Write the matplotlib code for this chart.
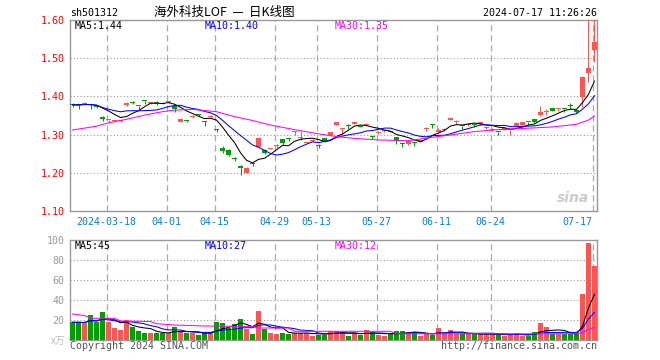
import numpy as np
import pandas as pd
import matplotlib
matplotlib.use('Agg')
import matplotlib.pyplot as plt

# 日K数据: 2024-03-08 ~ 2024-07-17, 88个交易日
opens = [1.380, 1.378, 1.381, 1.378, 1.376, 1.347, 1.338, 1.335, 1.336, 1.377,
         1.384, 1.375, 1.388, 1.382, 1.383, 1.383, 1.385, 1.375, 1.333, 1.337,
         1.346, 1.353, 1.335, 1.346, 1.312, 1.266, 1.259, 1.237, 1.219, 1.200,
         1.223, 1.268, 1.260, 1.263, 1.270, 1.288, 1.289, 1.308, 1.291, 1.279,
         1.283, 1.272, 1.290, 1.298, 1.325, 1.315, 1.323, 1.328, 1.323, 1.326,
         1.296, 1.305, 1.309, 1.309, 1.293, 1.277, 1.275, 1.280, 1.281, 1.314,
         1.327, 1.308, 1.313, 1.338, 1.332, 1.323, 1.326, 1.326, 1.327, 1.318,
         1.313, 1.307, 1.312, 1.311, 1.323, 1.325, 1.333, 1.340, 1.351, 1.359,
         1.369, 1.366, 1.368, 1.376, 1.365, 1.399, 1.460, 1.521]
closes = [1.378, 1.377, 1.382, 1.377, 1.371, 1.341, 1.339, 1.336, 1.337, 1.383,
          1.383, 1.374, 1.387, 1.383, 1.382, 1.381, 1.386, 1.366, 1.342, 1.335,
          1.347, 1.351, 1.334, 1.347, 1.311, 1.256, 1.246, 1.236, 1.213, 1.213,
          1.222, 1.292, 1.251, 1.265, 1.271, 1.279, 1.288, 1.309, 1.292, 1.280,
          1.284, 1.271, 1.281, 1.307, 1.333, 1.316, 1.322, 1.333, 1.321, 1.327,
          1.295, 1.306, 1.310, 1.307, 1.283, 1.276, 1.284, 1.279, 1.287, 1.315,
          1.326, 1.313, 1.314, 1.344, 1.333, 1.322, 1.327, 1.325, 1.333, 1.319,
          1.314, 1.306, 1.318, 1.312, 1.331, 1.332, 1.332, 1.332, 1.359, 1.360,
          1.363, 1.367, 1.367, 1.375, 1.358, 1.452, 1.474, 1.542]
highs = [1.383, 1.378, 1.386, 1.380, 1.377, 1.348, 1.339, 1.337, 1.337, 1.386,
         1.388, 1.375, 1.388, 1.384, 1.388, 1.384, 1.389, 1.376, 1.343, 1.337,
         1.352, 1.353, 1.335, 1.352, 1.315, 1.270, 1.262, 1.241, 1.220, 1.214,
         1.226, 1.293, 1.261, 1.266, 1.276, 1.289, 1.292, 1.309, 1.309, 1.281,
         1.288, 1.275, 1.291, 1.308, 1.334, 1.316, 1.327, 1.334, 1.324, 1.331,
         1.296, 1.310, 1.313, 1.310, 1.294, 1.277, 1.285, 1.280, 1.288, 1.319,
         1.327, 1.316, 1.317, 1.345, 1.337, 1.323, 1.331, 1.329, 1.334, 1.322,
         1.317, 1.307, 1.319, 1.313, 1.332, 1.333, 1.333, 1.341, 1.376, 1.367,
         1.370, 1.368, 1.368, 1.382, 1.366, 1.453, 1.620, 1.620]
lows = [1.373, 1.366, 1.378, 1.366, 1.370, 1.336, 1.331, 1.334, 1.333, 1.375,
        1.379, 1.366, 1.380, 1.381, 1.377, 1.380, 1.383, 1.358, 1.332, 1.333,
        1.343, 1.350, 1.322, 1.343, 1.306, 1.252, 1.243, 1.231, 1.194, 1.199,
        1.218, 1.267, 1.248, 1.262, 1.264, 1.273, 1.284, 1.299, 1.286, 1.278,
        1.280, 1.264, 1.280, 1.297, 1.324, 1.299, 1.315, 1.327, 1.320, 1.323,
        1.288, 1.302, 1.306, 1.306, 1.275, 1.268, 1.274, 1.271, 1.280, 1.310,
        1.318, 1.303, 1.310, 1.337, 1.329, 1.315, 1.323, 1.321, 1.326, 1.315,
        1.310, 1.299, 1.311, 1.299, 1.322, 1.324, 1.325, 1.331, 1.350, 1.351,
        1.362, 1.362, 1.360, 1.366, 1.357, 1.373, 1.438, 1.489]
# 成交量 (万)
volumes = [17.7, 17.7, 17.0, 25.3, 17.7, 28.3, 17.7, 12.3, 10.3, 20.3,
           13.0, 9.3, 7.3, 7.3, 7.0, 7.0, 7.0, 13.3, 8.0, 7.0,
           7.0, 5.3, 7.0, 8.0, 18.3, 17.3, 12.3, 16.3, 21.3, 10.7,
           6.3, 29.3, 11.3, 7.3, 6.3, 7.3, 6.3, 7.3, 7.0, 7.3,
           4.3, 5.3, 5.3, 9.3, 9.3, 7.7, 3.7, 6.0, 5.3, 10.3,
           7.7, 4.7, 3.7, 5.7, 9.3, 9.3, 7.7, 8.0, 3.7, 5.7,
           5.3, 12.3, 5.7, 10.3, 5.7, 5.7, 5.7, 5.7, 5.7, 5.7,
           5.7, 5.7, 4.3, 5.7, 7.0, 4.3, 3.7, 8.3, 17.3, 13.3,
           5.7, 5.7, 5.7, 5.7, 5.7, 46.3, 96.7, 74.3]

# MA30 读自原图 (需要图外的历史数据, 所以直接读点)
ma30_idx = [0, 4, 6, 9, 12, 15, 17, 20, 24, 27, 30, 33, 37, 41, 44, 47, 51, 56, 60, 63,
            67, 71, 75, 80, 84, 86, 87]
ma30_val = [1.312, 1.322, 1.331, 1.340, 1.351, 1.360, 1.364, 1.366, 1.360, 1.347, 1.337,
            1.325, 1.313, 1.302, 1.295, 1.290, 1.286, 1.284, 1.293, 1.299, 1.308, 1.313,
            1.316, 1.320, 1.327, 1.338, 1.349]
vma30_idx = [0, 2, 3, 7, 8, 13, 14, 17, 22, 30, 31, 36, 37, 53, 54, 84, 85, 86, 87]
vma30_val = [26.0, 24.5, 21.7, 21.7, 19.0, 18.5, 16.3, 15.0, 14.0, 13.5, 12.0, 12.0, 8.7,
             8.7, 6.2, 6.2, 7.5, 10.5, 12.5]

tick_pos = [6, 16, 24, 34, 41, 51, 61, 70, 87]
tick_labels = ['2024-03-18', '04-01', '04-15', '04-29', '05-13', '05-27', '06-11', '06-24', '07-17']
price_ticks = [1.10, 1.20, 1.30, 1.40, 1.50, 1.60]
vol_ticks = [20, 40, 60, 80, 100]

RED = '#ff5454'
GREEN = '#00a000'
MONO = 'DejaVu Sans Mono'
FS = 7.2

o = np.array(opens)
c = np.array(closes)
h = np.array(highs)
l = np.array(lows)
v = np.array(volumes)
x = np.arange(len(c))
up = c >= o
colors = np.where(up, RED, GREEN)

ma5 = pd.Series(c).rolling(5, min_periods=1).mean()
ma10 = pd.Series(c).rolling(10, min_periods=1).mean()
vma5 = pd.Series(v).rolling(5, min_periods=1).mean()
vma10 = pd.Series(v).rolling(10, min_periods=1).mean()

fig = plt.figure(figsize=(6.6, 3.6), dpi=100)
W, H = 660.0, 360.0


def box(x0, y0, x1, y1):
    return [x0 / W, 1 - y1 / H, (x1 - x0) / W, (y1 - y0) / H]


ax1 = fig.add_axes(box(70, 20, 597, 211))
ax2 = fig.add_axes(box(70, 240, 597, 340))

grid_x = [p - 0.3 for p in tick_pos]

for ax in (ax1, ax2):
    ax.set_xlim(-0.42, 87.42)
    for s in ax.spines.values():
        s.set_color('#999999')
        s.set_linewidth(1.0)
    for gx in grid_x:
        ax.axvline(gx, color='#aaaaaa', lw=0.9, ls=(0, (5, 3)), zorder=0)
    ax.tick_params(length=0)

# K线
ax1.set_ylim(1.10, 1.60)
ax1.vlines(x, l, h, colors=colors, lw=0.75, zorder=3)
body = np.maximum(np.abs(c - o), 0.0026)
ax1.bar(x, body, bottom=np.minimum(o, c), width=0.8, color=colors, zorder=4)
ax1.plot(x, ma5, color='black', lw=0.75, zorder=5)
ax1.plot(x, ma10, color='#0000ff', lw=0.75, zorder=5)
ax1.plot(ma30_idx, ma30_val, color='#ff00ff', lw=0.75, zorder=5)
for yv in price_ticks[1:-1]:
    ax1.axhline(yv, color='#999999', lw=0.8, ls=(0, (1, 2)), zorder=0)
ax1.set_yticks(price_ticks)
ax1.set_yticklabels(['%.2f' % t for t in price_ticks], color='#ff0000',
                    fontsize=FS, family=MONO)
ax1.tick_params(axis='y', pad=4)
ax1.set_xticks(grid_x)
ax1.set_xticklabels(tick_labels, color='#0a80d0', fontsize=FS, family=MONO)
ax1.tick_params(axis='x', pad=4)
ax1.get_xticklabels()[-1].set_horizontalalignment('right')
ax1.text(0.985, 0.03, 'sina', transform=ax1.transAxes, ha='right', va='bottom',
         fontsize=10, color='#cccccc', style='italic', weight='bold', zorder=1)

# 成交量
ax2.set_ylim(0, 100)
ax2.bar(x, v, width=0.82, color=colors, zorder=3)
ax2.plot(x, vma5, color='black', lw=0.75, zorder=5)
ax2.plot(x, vma10, color='#0000ff', lw=0.75, zorder=5)
ax2.plot(vma30_idx, vma30_val, color='#ff00ff', lw=0.75, zorder=5)
for yv in vol_ticks[:-1]:
    ax2.axhline(yv, color='#999999', lw=0.8, ls=(0, (1, 2)), zorder=0)
ax2.set_yticks(vol_ticks)
ax2.set_yticklabels([str(t) for t in vol_ticks], color='#999999', fontsize=FS, family=MONO)
ax2.tick_params(axis='y', pad=4)
ax2.set_xticks([])


def ftext(px, py, s, **kw):
    fig.text(px / W, 1 - py / H, s, va='center', **kw)


# 标题和标注
ftext(70, 13, 'sh501312', fontsize=FS, family=MONO, color='black')
ftext(224, 12, '海外科技LOF  —  日K线图', ha='center', fontsize=9,
      family=['Noto Sans CJK SC', 'DejaVu Sans'], color='black')
ftext(597, 13, '2024-07-17 11:26:26', ha='right', fontsize=FS, family=MONO, color='black')
ftext(75, 26, 'MA5:1.44', fontsize=FS, family=MONO, color='black')
ftext(205, 26, 'MA10:1.40', fontsize=FS, family=MONO, color='#0000ff')
ftext(335, 26, 'MA30:1.35', fontsize=FS, family=MONO, color='#ff00ff')
ftext(75, 246, 'MA5:45', fontsize=FS, family=MONO, color='black')
ftext(205, 246, 'MA10:27', fontsize=FS, family=MONO, color='#0000ff')
ftext(335, 246, 'MA30:12', fontsize=FS, family=MONO, color='#ff00ff')
ftext(65, 341, 'x万', ha='right', fontsize=7, family=['Noto Sans CJK SC', 'DejaVu Sans'],
      color='#bbbbbb')
ftext(70, 346, 'Copyright 2024 SINA.COM', fontsize=FS, family=MONO, color='#555555')
ftext(597, 346, 'http://finance.sina.com.cn', ha='right', fontsize=FS, family=MONO,
      color='#555555')

fig.savefig('out.png', dpi=100, facecolor='white')
